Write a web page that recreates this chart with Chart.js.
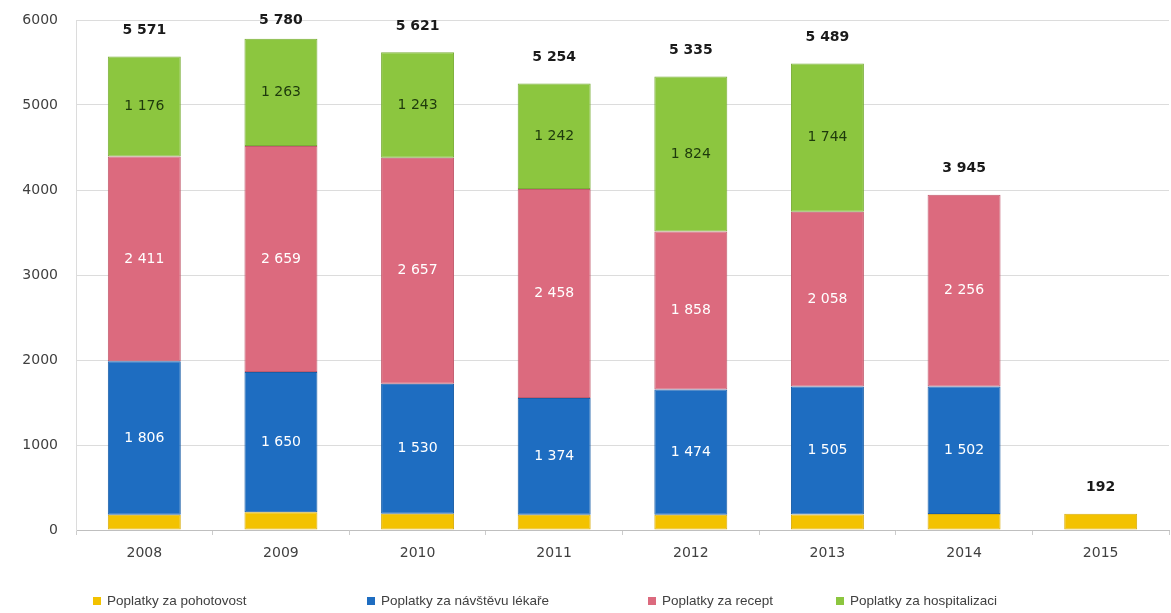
<!DOCTYPE html>
<html>
<head>
<meta charset="utf-8">
<script src="https://cdn.jsdelivr.net/npm/chart.js@4.4.1/dist/chart.umd.min.js"></script>
<style>
  html, body { margin: 0; padding: 0; background: #fff; }
  #wrap { position: relative; width: 1171px; height: 613px; }
  #legend { position: absolute; left: 0; top: 0; width: 1171px; height: 613px; pointer-events: none;
            font-family: "Liberation Sans", Arial, sans-serif; font-size: 13.5px; color: #404040; }
  .li { position: absolute; top: 593px; white-space: nowrap; line-height: 16px; }
  .li i { display: inline-block; width: 8px; height: 8px; margin-right: 6px; vertical-align: 0px; }
</style>
</head>
<body>
<div id="wrap">
  <canvas id="c" width="1171" height="613"></canvas>
  <div id="legend"></div>
</div>
<script>
// ---- data ----
const years = ['2008', '2009', '2010', '2011', '2012', '2013', '2014', '2015'];
const seriesNames = ['Poplatky za pohotovost', 'Poplatky za návštěvu lékaře', 'Poplatky za recept', 'Poplatky za hospitalizaci'];
const pohotovost = [178, 208, 191, 180, 179, 182, 187, 192];
const navstevaLekare = [1806, 1650, 1530, 1374, 1474, 1505, 1502, null];
const recept = [2411, 2659, 2657, 2458, 1858, 2058, 2256, null];
const hospitalizace = [1176, 1263, 1243, 1242, 1824, 1744, null, null];
const yTicks = [0, 1000, 2000, 3000, 4000, 5000, 6000];

// ---- styles ----
const colors = ['#F3C200', '#1E6DC1', '#DC6A7E', '#8CC63F'];
const borders = ['#D9AE10', '#1A5EA6', '#C25B6E', '#7AAE38'];
const labelColors = [null, '#ffffff', '#ffffff', '#1E3A0C'];
const legendLeft = [93, 367, 648, 836];
const FONT = '"DejaVu Sans", "Liberation Sans", Arial, sans-serif';

function fmt(n) { return String(n).replace(/\B(?=(\d{3})+(?!\d))/g, ' '); }

const seriesData = [pohotovost, navstevaLekare, recept, hospitalizace];
const datasets = seriesData.map((d, i) => ({
  label: seriesNames[i],
  data: d,
  backgroundColor: colors[i],
  borderColor: borders[i],
  borderWidth: 1,
  borderSkipped: false,
  barPercentage: 0.534,
  categoryPercentage: 1.0
}));

const labelPlugin = {
  id: 'labels',
  afterDatasetsDraw(chart) {
    const ctx = chart.ctx;
    ctx.save();
    ctx.textAlign = 'center';
    ctx.textBaseline = 'middle';
    chart.data.datasets.forEach((ds, di) => {
      if (!labelColors[di]) return;
      const meta = chart.getDatasetMeta(di);
      meta.data.forEach((bar, i) => {
        const v = ds.data[i];
        if (v == null || v === 0) return;
        const p = bar.getProps(['x', 'y', 'base'], true);
        ctx.fillStyle = labelColors[di];
        ctx.font = '14px ' + FONT;
        ctx.fillText(fmt(v), p.x, (p.y + p.base) / 2);
      });
    });
    years.forEach((y, i) => {
      let total = 0, top = Infinity, x = 0;
      chart.data.datasets.forEach((ds, di) => {
        const v = ds.data[i];
        if (v == null) return;
        total += v;
        const p = chart.getDatasetMeta(di).data[i].getProps(['x', 'y'], true);
        x = p.x;
        top = Math.min(top, p.y);
      });
      const ty = Math.max(top - 26, chart.chartArea.top);
      ctx.fillStyle = '#1a1a1a';
      ctx.font = 'bold 14px ' + FONT;
      ctx.fillText(fmt(total), x, ty);
    });
    ctx.restore();
  }
};

const chart = new Chart(document.getElementById('c'), {
  type: 'bar',
  data: { labels: years, datasets },
  options: {
    responsive: false,
    animation: false,
    layout: { padding: { top: 20, right: 2, bottom: 53, left: 0 } },
    plugins: { legend: { display: false }, tooltip: { enabled: false } },
    scales: {
      x: {
        stacked: true,
        afterFit(scale) { scale.height = 30; },
        grid: { display: true, drawOnChartArea: false, drawTicks: true, tickLength: 5, color: '#cccccc' },
        border: { display: true, color: '#bfbfbf' },
        ticks: { color: '#404040', font: { family: FONT, size: 14 }, padding: 10 }
      },
      y: {
        stacked: true,
        min: 0, max: 6000,
        afterBuildTicks(scale) { scale.ticks = yTicks.map(v => ({ value: v })); },
        afterFit(scale) { scale.width = 76; },
        grid: { color: '#dcdcdc', drawTicks: true, tickLength: 12, tickColor: 'rgba(0,0,0,0)' },
        border: { display: true, color: '#dcdcdc' },
        ticks: { color: '#404040', font: { family: FONT, size: 14 }, padding: 6, callback: v => String(v) }
      }
    }
  },
  plugins: [labelPlugin]
});

const lg = document.getElementById('legend');
chart.data.datasets.forEach((ds, i) => {
  const d = document.createElement('div');
  d.className = 'li';
  d.style.left = legendLeft[i] + 'px';
  const sw = document.createElement('i');
  sw.style.background = ds.backgroundColor;
  d.appendChild(sw);
  d.appendChild(document.createTextNode(ds.label));
  lg.appendChild(d);
});
</script>
</body>
</html>
